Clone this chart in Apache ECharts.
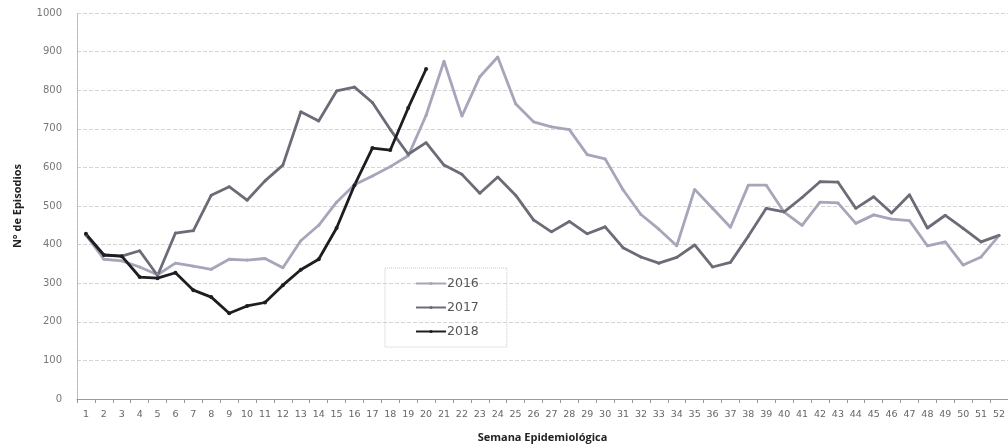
<!DOCTYPE html>
<html>
<head>
<meta charset="utf-8">
<script src="https://cdn.jsdelivr.net/npm/echarts@6/dist/echarts.min.js"></script>
<style>
  html, body { margin: 0; padding: 0; background: #fff; }
  #chart { width: 1008px; height: 448px; }
</style>
</head>
<body>
<div id="chart"></div>
<script>
// Epidemiological weeks 1..52
const weeks = Array.from({ length: 52 }, (_, i) => String(i + 1));

// Weekly episode counts per year
const y2016 = [425, 362, 358, 342, 322, 352, 344, 336, 362, 360, 364, 340, 410, 450, 510, 555, 578, 602, 630, 735,
               875, 733, 835, 886, 765, 718, 705, 698, 633, 622, 542, 478, 440, 397, 543, 494, 445, 554, 554, 484,
               450, 510, 508, 455, 477, 466, 462, 397, 407, 347, 368, 423];
const y2017 = [425, 373, 370, 384, 320, 430, 436, 528, 550, 515, 565, 606, 744, 720, 798, 808, 768, 698, 634, 664,
               606, 582, 533, 575, 528, 464, 433, 460, 428, 446, 392, 368, 352, 367, 399, 342, 354, 422, 494, 485,
               522, 563, 562, 494, 524, 482, 529, 443, 476, 442, 407, 424];
const y2018 = [428, 373, 370, 316, 313, 327, 282, 264, 222, 241, 250, 295, 335, 362, 443, 554, 650, 645, 754, 855];

const seriesNames = ['2016', '2017', '2018'];
const seriesColors = ['#a6a6ba', '#6c6c78', '#1e1e22'];

function lineSeries(name, data, color, width, symbolSize) {
  return {
    name: name,
    type: 'line',
    data: data,
    symbol: 'circle',
    symbolSize: symbolSize,
    showSymbol: true,
    itemStyle: { color: color },
    lineStyle: { color: color, width: width },
    emphasis: { disabled: true },
    animation: false
  };
}

const chart = echarts.init(document.getElementById('chart'));
chart.setOption({
  backgroundColor: '#ffffff',
  grid: { left: 77, top: 13, width: 936, height: 386, containLabel: false },
  legend: {
    orient: 'vertical',
    left: 385,
    top: 268,
    itemGap: 11,
    itemWidth: 30,
    itemHeight: 4,
    padding: [9, 28, 9, 30],
    borderColor: '#c8c8c8',
    borderWidth: 1,
    borderType: 'dotted',
    textStyle: { color: '#555', fontSize: 12.5, fontFamily: 'DejaVu Sans', padding: [0, 0, 0, -4] },
    data: seriesNames
  },
  xAxis: {
    type: 'category',
    data: weeks,
    boundaryGap: true,
    name: 'Semana Epidemiológica',
    nameLocation: 'middle',
    nameGap: 33,
    nameTextStyle: { color: '#222', fontSize: 11, fontWeight: 'bold', fontFamily: 'Open Sans' },
    axisLine: { lineStyle: { color: '#9a9a9a', width: 1 } },
    axisTick: { show: true, alignWithLabel: false, length: 4, lineStyle: { color: '#9a9a9a' } },
    axisLabel: { interval: 0, color: '#666', fontSize: 9.5, margin: 11, fontFamily: 'DejaVu Sans' },
    splitLine: { show: false }
  },
  yAxis: {
    type: 'value',
    min: 0,
    max: 1000,
    interval: 100,
    name: 'N° de Episodios',
    nameLocation: 'middle',
    nameGap: 54,
    nameRotate: 90,
    nameTextStyle: { color: '#222', fontSize: 11, fontWeight: 'bold', fontFamily: 'Open Sans' },
    axisLine: { show: true, lineStyle: { color: '#b0b0b0', type: 'dotted' } },
    axisTick: { show: false },
    axisLabel: { color: '#777', fontSize: 10, margin: 15, fontFamily: 'DejaVu Sans', formatter: (v) => String(v) },
    splitLine: { show: true, lineStyle: { color: '#d4d4d4', type: 'dashed', width: 1 } }
  },
  series: [
    lineSeries(seriesNames[0], y2016, seriesColors[0], 2.8, 3),
    lineSeries(seriesNames[1], y2017, seriesColors[1], 2.8, 3),
    lineSeries(seriesNames[2], y2018, seriesColors[2], 2.8, 4)
  ]
});
</script>
</body>
</html>
